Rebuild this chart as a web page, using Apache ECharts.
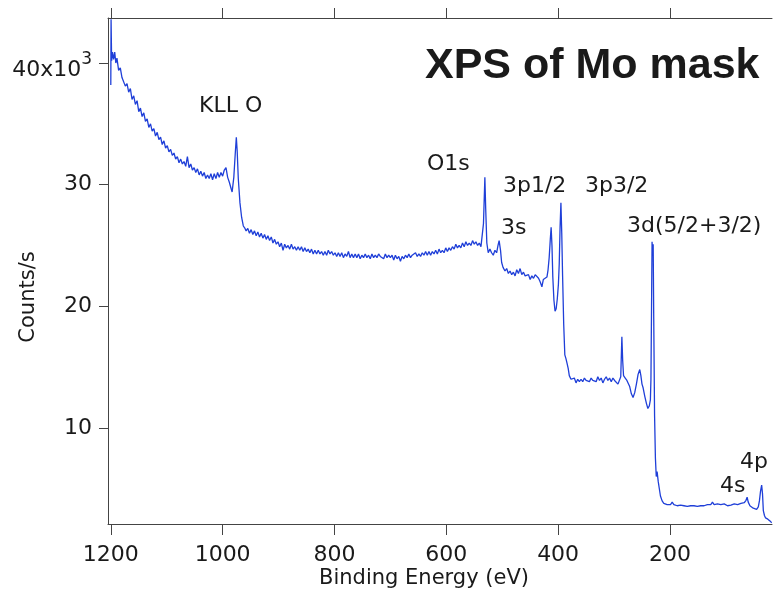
<!DOCTYPE html>
<html>
<head>
    <meta charset="utf-8">
    <title>XPS of Mo mask</title>
    <script src="https://cdn.jsdelivr.net/npm/echarts@6/dist/echarts.min.js"></script>
</head>
<body>
<div id="main"></div>
<style type="text/css">
    html, body {
        margin: 0px;
        padding: 0px;
        background: #fff;
    }

    #main {
        width: 773px;
        height: 595px;
    }
</style>

<script type="text/javascript">
    // spectrum: [binding energy (eV), counts/s in 10^3]
    var segBackground = [
        [1200, 38.2], [1199.5, 43.6], [1198.5, 40.2], [1197, 40.9], [1195, 40.3], [1193, 40.9], [1191, 40.0],
        [1189, 40.4], [1186, 39.4], [1183, 39.6], [1180, 38.8], [1177, 38.9], [1174, 38.1], [1171, 38.3],
        [1168, 37.6], [1165, 37.9], [1162, 37.0], [1159, 37.3], [1156, 36.6], [1153, 36.9], [1150, 36.0],
        [1147, 36.3], [1144, 35.6], [1141, 35.9], [1138, 35.2], [1135, 35.4], [1132, 34.7], [1129, 35.0],
        [1126, 34.4], [1123, 34.6], [1120, 34.0], [1117, 34.3], [1114, 33.7], [1111, 33.9], [1108, 33.3],
        [1105, 33.6], [1102, 33.0], [1099, 33.2], [1096, 32.7], [1093, 32.9], [1090, 32.4], [1087, 32.6],
        [1084, 32.1], [1081, 32.3], [1078, 31.8], [1075, 32.1], [1072, 31.7], [1069, 31.9], [1066, 31.5],
        [1063, 32.3], [1060, 31.4], [1057, 31.7], [1054, 31.2], [1051, 31.4], [1048, 31.0], [1045, 31.3],
        [1042, 30.8], [1039, 31.1], [1036, 30.7], [1033, 31.0], [1030, 30.5], [1027, 30.8], [1024, 30.5],
        [1021, 30.9], [1018, 30.4], [1015, 30.9], [1012, 30.5], [1009, 31.0], [1006, 30.6], [1003, 31.0],
        [1000, 30.7], [997, 31.2], [994, 31.4], [991, 30.6], [988, 30.2], [985, 29.7], [983, 29.4]
    ];
    var segKLL = [
        [980, 30.6], [977.5, 32.5], [975.5, 33.9], [974, 32.8], [972, 30.5], [969, 28.5], [966, 27.3],
        [963, 26.6], [960, 26.4]
    ];
    var segPlateau = [
        [958, 26.2], [955, 26.4], [952, 26.0], [949, 26.3], [946, 25.9], [943, 26.2], [940, 25.8], [937, 26.1],
        [934, 25.7], [931, 26.0], [928, 25.6], [925, 25.9], [922, 25.5], [919, 25.8], [916, 25.4], [913, 25.7],
        [910, 25.2], [907, 25.5], [904, 25.1], [901, 25.3], [898, 24.9], [895, 25.2], [892, 24.6], [889, 25.1],
        [886, 24.8], [883, 25.0], [880, 24.7], [877, 25.1], [874, 24.7], [871, 24.9], [868, 24.6], [865, 24.9],
        [862, 24.6], [859, 24.9], [856, 24.5], [853, 24.8], [850, 24.5], [847, 24.7], [844, 24.4], [841, 24.7],
        [838, 24.3], [835, 24.6], [832, 24.3], [829, 24.6], [826, 24.3], [823, 24.5], [820, 24.2], [817, 24.5],
        [814, 24.2], [811, 24.6], [808, 24.3], [805, 24.5], [802, 24.2], [799, 24.4], [796, 24.1], [793, 24.4],
        [790, 24.1], [787, 24.4], [784, 24.0], [781, 24.3], [778, 24.1], [775, 24.5], [772, 24.0], [769, 24.3],
        [766, 24.0], [763, 24.3], [760, 24.0], [757, 24.3], [754, 23.9], [751, 24.2], [748, 24.0], [745, 24.3],
        [742, 24.0], [739, 24.2], [736, 23.9], [733, 24.3], [730, 24.0], [727, 24.2], [724, 24.0], [721, 24.3],
        [718, 24.1], [715, 24.2], [712, 23.9], [709, 24.3], [706, 24.0], [703, 24.2], [700, 24.0], [697, 24.2],
        [694, 23.8], [691, 24.2], [688, 23.9], [685, 24.1], [682, 23.7], [679, 24.1], [676, 23.9], [673, 24.2],
        [670, 24.0], [667, 24.3], [664, 24.0], [661, 24.2], [658, 24.1], [655, 24.4], [652, 24.1], [649, 24.3],
        [646, 24.1], [643, 24.4], [640, 24.2], [637, 24.5], [634, 24.2], [631, 24.5], [628, 24.2], [625, 24.5],
        [622, 24.3], [619, 24.6], [616, 24.3], [613, 24.7], [610, 24.4], [607, 24.6], [604, 24.4], [601, 24.8],
        [598, 24.5], [595, 24.8], [592, 24.6], [589, 24.9], [586, 24.7], [583, 25.1], [580, 24.8], [577, 25.0],
        [574, 24.8], [571, 25.2], [568, 24.9], [565, 25.3], [562, 25.0], [559, 25.2], [556, 25.0], [553, 25.4],
        [550, 25.1], [547, 25.3], [544, 25.0], [541, 25.2], [538, 24.9], [536, 24.8]
    ];
    var segO1s3s3p = [
        [533.5, 26.8], [531, 30.6], [529.5, 28.0], [527.5, 25.2], [525, 24.4], [522, 24.7], [519, 24.4],
        [516, 24.2], [513, 24.6], [510, 24.4], [507.5, 25.0], [505.5, 25.4], [503, 24.6], [501, 23.6],
        [498.5, 23.2], [495, 22.9], [492, 23.1], [489, 22.7], [486, 22.9], [483, 22.6], [480, 22.8],
        [477, 22.5], [474, 23.0], [471, 22.7], [468, 23.1], [465, 22.6], [462, 22.8], [459, 22.5],
        [456, 22.4], [453, 22.6], [450, 22.2], [447, 22.5], [444, 22.3], [441, 22.6], [438, 22.7],
        [435, 22.3], [432, 22.0], [429, 21.6], [426.5, 22.2], [423, 22.1], [420, 22.4], [418, 23.0],
        [416, 24.0], [414, 25.5], [412.5, 26.5], [411, 25.0], [409.5, 22.4], [407.5, 20.5], [405.5, 19.6],
        [403.5, 19.8], [401.5, 20.6], [399.5, 21.8], [398, 23.5], [396.5, 26.5], [395, 28.5], [393.5, 26.0],
        [392, 22.5], [390, 18.5], [388, 16.0], [386, 15.7], [384, 15.3], [382, 14.9], [380, 14.3]
    ];
    var segMid = [
        [377, 14.0], [374, 13.9], [371, 14.1], [368, 13.7], [365, 14.0], [362, 13.8], [359, 14.0], [356, 13.8],
        [353, 14.1], [350, 13.9], [347, 14.0], [344, 13.8], [341, 14.1], [338, 13.9], [335, 14.0], [332, 13.8],
        [329, 14.2], [326, 13.9], [323, 14.1], [320, 13.7], [317, 14.0], [314, 14.2], [311, 13.9], [308, 14.1],
        [305, 13.8], [302, 14.1], [299, 13.9], [296, 14.0], [293, 13.6], [290, 13.5], [288, 14.2], [286, 17.5],
        [284.5, 15.5], [283, 14.3], [280, 14.1], [277, 13.9], [275, 13.8], [272, 13.4], [269, 12.8], [266, 12.5],
        [263, 12.9], [260, 13.6], [257, 14.4], [254, 14.8], [252, 14.3], [250, 13.6], [248, 13.3], [245, 12.6],
        [242, 12.0], [239.5, 11.6], [237, 11.8]
    ];
    var segMo3d = [
        [235, 12.3], [234, 14.0], [233, 19.5], [232, 25.3], [231, 24.2], [230, 25.1], [229, 19.0], [227.5, 11.0],
        [226, 7.5], [224.5, 6.0], [223, 6.4], [221, 5.6], [219, 5.0], [217, 4.4], [214, 4.0], [211, 3.8]
    ];
    var segValence = [
        [208, 3.9], [205, 3.7], [202, 3.8], [199, 3.7], [196, 3.9], [193, 3.7], [190, 3.8], [187, 3.6],
        [184, 3.75], [181, 3.65], [178, 3.8], [175, 3.6], [172, 3.7], [169, 3.55], [166, 3.7], [163, 3.6],
        [160, 3.75], [157, 3.6], [154, 3.7], [151, 3.55], [148, 3.65], [145, 3.6], [142, 3.75], [139, 3.6],
        [136, 3.6], [133, 3.7], [130, 3.65], [127, 3.7], [124, 3.9], [121, 3.7], [118, 3.65], [115, 3.75],
        [112, 3.6], [109, 3.7], [106, 3.65], [103, 3.75], [100, 3.7], [97, 3.6], [94, 3.75], [91, 3.65],
        [88, 3.7], [85, 3.75], [82, 3.6], [79, 3.7], [76, 3.65], [73, 3.8], [70, 3.75], [67, 3.85],
        [64, 4.05], [62, 4.3], [60, 3.9], [57, 3.6], [54, 3.5], [51, 3.4], [48, 3.45], [45, 3.3],
        [42, 3.5], [40, 4.0], [38, 4.8], [36, 5.3], [34.5, 4.6], [33, 3.2], [31, 2.8], [29, 2.6],
        [27, 2.7], [25, 2.5], [22, 2.4], [20, 2.3], [18, 2.2]
    ];

    var xTicks = [1200, 1000, 800, 600, 400, 200];
    var yTicks = [10, 20, 30, 40];

    // peak labels
    var peakNames = ['KLL O', 'O1s', '3p1/2', '3p3/2', '3s', '3d(5/2+3/2)', '4p', '4s'];
    var peakLabelPos = [[199, 106], [427, 164], [503, 186], [585, 186], [501, 228], [627, 226], [740, 462], [720, 486]];

    var spectrum = [].concat(segBackground, segKLL, segPlateau, segO1s3s3p, segMid, segMo3d, segValence);

    var font = 'DejaVu Sans';
    var axisColor = '#444';
    var textColor = '#1a1a1a';

    var myChart = echarts.init(document.getElementById('main'));

    function textEl(str, x, y, fontCss, align, rotation) {
        return {
            type: 'text',
            x: x,
            y: y,
            rotation: rotation || 0,
            style: {
                text: str,
                fill: textColor,
                font: fontCss,
                textAlign: align,
                textVerticalAlign: 'middle'
            }
        };
    }

    var labels = peakNames.map(function (name, i) {
        return textEl(name, peakLabelPos[i][0], peakLabelPos[i][1], '22px "' + font + '"', 'left');
    });
    labels.push(textEl('XPS of Mo mask', 425, 66, 'bold 43px "Liberation Sans"', 'left'));
    labels.push(textEl('Binding Energy (eV)', 424, 579, '21px "' + font + '"', 'center'));
    labels.push(textEl('Counts/s', 29, 297, '21px "' + font + '"', 'center', Math.PI / 2));

    option = {
        animation: false,
        backgroundColor: '#fff',
        grid: {
            left: 108,
            right: 1,
            top: 18,
            bottom: 71,
            outerBoundsMode: 'none'
        },
        xAxis: [{
            type: 'value',
            inverse: true,
            min: 17.5,
            max: 1205,
            axisLine: {show: true, onZero: false, lineStyle: {color: axisColor, width: 1}},
            axisTick: {show: true, length: 11, customValues: xTicks, lineStyle: {color: axisColor}},
            axisLabel: {
                customValues: xTicks,
                margin: 20,
                fontFamily: font,
                fontSize: 22,
                color: textColor,
                formatter: function (v) {
                    return String(v);
                }
            },
            splitLine: {show: false}
        }, {
            type: 'value',
            position: 'top',
            inverse: true,
            min: 17.5,
            max: 1205,
            axisLine: {show: true, onZero: false, lineStyle: {color: axisColor, width: 1}},
            axisTick: {show: true, length: 10, customValues: xTicks, lineStyle: {color: axisColor}},
            axisLabel: {show: false},
            splitLine: {show: false}
        }],
        yAxis: {
            type: 'value',
            min: 2.1,
            max: 43.7,
            axisLine: {show: true, onZero: false, lineStyle: {color: axisColor, width: 1}},
            axisTick: {show: true, length: 9, customValues: yTicks, lineStyle: {color: axisColor}},
            axisLabel: {
                customValues: yTicks,
                margin: 16,
                fontFamily: font,
                fontSize: 22,
                color: textColor,
                formatter: function (v) {
                    return v === 40 ? '{b|40x10}{sup|3}' : String(v);
                },
                rich: {
                    b: {
                        fontFamily: font, fontSize: 22, color: textColor,
                        lineHeight: 22, verticalAlign: 'middle', padding: [14, 0, 0, 0]
                    },
                    sup: {
                        fontFamily: font, fontSize: 17, color: textColor,
                        lineHeight: 17, verticalAlign: 'middle', padding: [0, 0, 6, 0]
                    }
                }
            },
            splitLine: {show: false}
        },
        graphic: labels,
        series: [{
            name: 'XPS',
            type: 'line',
            data: spectrum,
            showSymbol: false,
            lineStyle: {color: '#1f3fd8', width: 1.3},
            silent: true
        }]
    };

    myChart.setOption(option);
</script>
</body>
</html>
